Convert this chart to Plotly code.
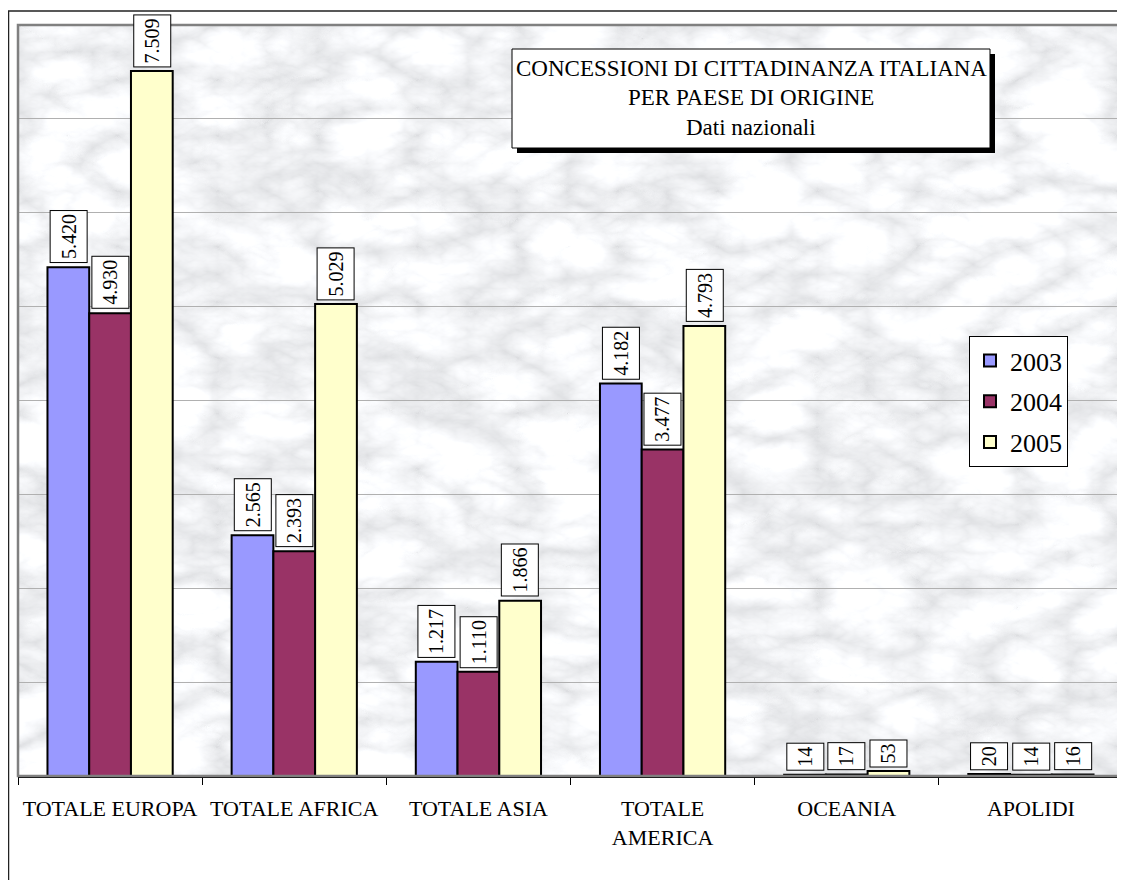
import plotly.graph_objects as go
import urllib.parse

# ---- data ----
categories = ["TOTALE EUROPA", "TOTALE AFRICA", "TOTALE ASIA", "TOTALE<br>AMERICA", "OCEANIA", "APOLIDI"]
years = ["2003", "2004", "2005"]
v2003 = [5420, 2565, 1217, 4182, 14, 20]
v2004 = [4930, 2393, 1110, 3477, 17, 14]
v2005 = [7509, 5029, 1866, 4793, 53, 16]
title_lines = ["CONCESSIONI DI CITTADINANZA ITALIANA", "PER PAESE DI ORIGINE", "Dati nazionali"]

series = [v2003, v2004, v2005]
colors = ["#9999FF", "#993366", "#FFFFCC"]

# ---- layout geometry (figure pixels; page body adds an 8px offset) ----
W, H = 1125, 880
L, T, R, B = 10, 17, 1115, 768
PW, PH = R - L, B - T
def fx(px):
    return (px - L) / PW
def fy(py):
    return (B - py) / PH

BARGAP = 0.32
SERIF = "Liberation Serif, Times New Roman, serif"

fig = go.Figure()
for i, (yr, vals) in enumerate(zip(years, series)):
    fig.add_trace(go.Bar(
        name=yr, x=categories, y=vals,
        marker=dict(color=colors[i], line=dict(color="black", width=2)),
        legendgroup=yr, hoverinfo="skip",
    ))

# data labels in boxes
w = (1 - BARGAP) / 3
annotations = []
for i, vals in enumerate(series):
    for j, v in enumerate(vals):
        annotations.append(dict(
            x=j + (i - 1) * w, y=v, xref="x", yref="y",
            text=f"{v:,}".replace(",", "."), showarrow=False,
            textangle=-90, yanchor="bottom", xanchor="center", yshift=4,
            font=dict(family=SERIF, size=20, color="black"),
            bgcolor="white", bordercolor="black", borderwidth=1, borderpad=3,
            height=30,
        ))

# title box text
tcx = fx((504 + 982) / 2)
for line, py in zip(title_lines, [61, 90, 120]):
    annotations.append(dict(
        x=tcx, y=fy(py), xref="paper", yref="paper", text=line, showarrow=False,
        xanchor="center", yanchor="middle",
        font=dict(family=SERIF, size=23, color="black"),
    ))

# marble-like texture (SVG turbulence filter)
svg = f'''<svg xmlns="http://www.w3.org/2000/svg" width="{PW}" height="{PH}" viewBox="0 0 {PW} {PH}">
<filter id="m" x="0" y="0" width="100%" height="100%">
<feTurbulence type="turbulence" baseFrequency="0.010 0.018" numOctaves="5" seed="7"/>
<feColorMatrix type="matrix" values="0.6 0 0 0 0.72  0.6 0 0 0 0.73  0.6 0 0 0 0.75  0 0 0 0 1"/>
</filter>
<rect width="100%" height="100%" filter="url(#m)"/>
</svg>'''
src = "data:image/svg+xml;charset=utf-8," + urllib.parse.quote(svg)

shapes = [
    # outer chart frame
    dict(type="rect", xref="paper", yref="paper", x0=fx(0.5), x1=fx(1140), y0=fy(3), y1=fy(900),
         line=dict(color="#222222", width=1.5), fillcolor="rgba(0,0,0,0)", layer="below"),
    # plot area border
    dict(type="rect", xref="paper", yref="paper", x0=0, x1=1, y0=0, y1=1,
         line=dict(color="#808080", width=2.5), fillcolor="rgba(0,0,0,0)", layer="above"),
    # title shadow
    dict(type="rect", xref="paper", yref="paper", x0=fx(509), x1=fx(987), y0=fy(145), y1=fy(46),
         line=dict(width=0), fillcolor="black", layer="above"),
    # title box
    dict(type="rect", xref="paper", yref="paper", x0=fx(504), x1=fx(982), y0=fy(140), y1=fy(41),
         line=dict(color="black", width=1), fillcolor="white", layer="above"),
]

fig.update_layout(
    width=W, height=H,
    margin=dict(l=L, r=W - R, t=T, b=H - B),
    paper_bgcolor="white", plot_bgcolor="#E2E4E7",
    barmode="group", bargap=BARGAP, bargroupgap=0,
    images=[dict(source=src, xref="paper", yref="paper", x=0, y=1, sizex=1, sizey=1,
                 sizing="stretch", xanchor="left", yanchor="top", layer="below")],
    showlegend=True,
    legend=dict(x=fx(961), y=fy(328), xanchor="left", yanchor="top",
                bgcolor="white", bordercolor="black", borderwidth=1,
                font=dict(family=SERIF, size=26, color="black"),
                traceorder="grouped", tracegroupgap=4),
    xaxis=dict(type="category", categoryorder="array", categoryarray=categories,
               range=[-0.5, len(categories) - 0.5], tickson="boundaries",
               showline=True, linecolor="black", linewidth=1.5,
               ticks="outside", ticklen=7, tickcolor="black", tickwidth=1,
               tickfont=dict(family=SERIF, size=22, color="black"),
               ticklabelstandoff=12, showgrid=False, zeroline=False),
    yaxis=dict(range=[0, 8000], dtick=1000, showticklabels=False, ticks="",
               showgrid=True, gridcolor="#B0B0B0", gridwidth=1, zeroline=False, showline=False),
    annotations=annotations, shapes=shapes,
)

fig.write_html("out.html")
